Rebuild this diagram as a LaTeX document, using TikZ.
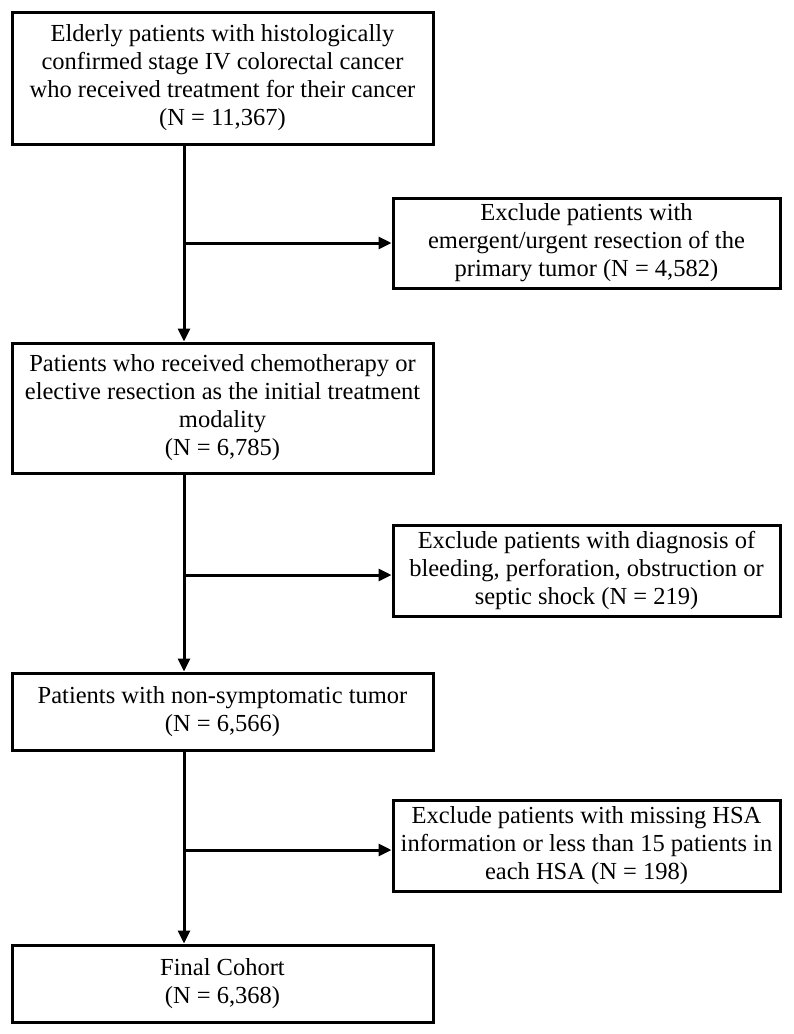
\documentclass[tikz,border=0pt]{standalone}
\usepackage{fontspec}
\setmainfont{Liberation Serif}
\usetikzlibrary{arrows.meta,calc}
\begin{document}
\begin{tikzpicture}[x=1pt,y=1pt,
  box/.style={draw=black, line width=3pt, align=center, inner sep=0pt,
    font=\fontsize{24.5}{28}\selectfont},
  mainbox/.style={box, minimum width=421pt},
  sidebox/.style={box, minimum width=387pt},
  link/.style={line width=3pt, -{Triangle[length=13pt,width=12pt]}},
  branch/.style={line width=3pt, -{Triangle[length=13pt,width=12pt]}}]
\useasboundingbox (0,0) rectangle (794,-1034);
\node[mainbox, minimum height=132pt] (b1) at (222.5,-78)
  {Elderly patients with histologically\\confirmed stage IV colorectal cancer\\who received treatment for their cancer\\(N = 11,367)};
\node[sidebox, minimum height=90pt] (b2) at (586.5,-243)
  {Exclude patients with\\emergent/urgent resection of the\\primary tumor (N = 4,582)};
\node[mainbox, minimum height=130pt] (b3) at (222.5,-408)
  {Patients who received chemotherapy or\\elective resection as the initial treatment\\modality\\(N = 6,785)};
\node[sidebox, minimum height=91pt] (b4) at (586.5,-570.5)
  {Exclude patients with diagnosis of\\bleeding, perforation, obstruction or\\septic shock (N = 219)};
\node[mainbox, minimum height=77pt] (b5) at (222.5,-711.5)
  {Patients with non-symptomatic tumor\\(N = 6,566)};
\node[sidebox, minimum height=91pt] (b6) at (586.5,-846)
  {Exclude patients with missing HSA\\information or less than 15 patients in\\each HSA (N = 198)};
\node[mainbox, minimum height=77pt] (b7) at (222.5,-983.5)
  {Final Cohort\\(N = 6,368)};
\coordinate (spine) at (184,0);
\draw[link] (b1.south -| spine) -- (b3.north -| spine);
\draw[link] (b3.south -| spine) -- (b5.north -| spine);
\draw[link] (b5.south -| spine) -- (b7.north -| spine);
\draw[branch] ($(b2.west -| spine)+(0,0)$) -- (b2.west);
\draw[branch] ($(b4.west -| spine)+(0,-4.5)$) -- ($(b4.west)+(0,-4.5)$);
\draw[branch] ($(b6.west -| spine)+(0,-4)$) -- ($(b6.west)+(0,-4)$);
\end{tikzpicture}
\end{document}
